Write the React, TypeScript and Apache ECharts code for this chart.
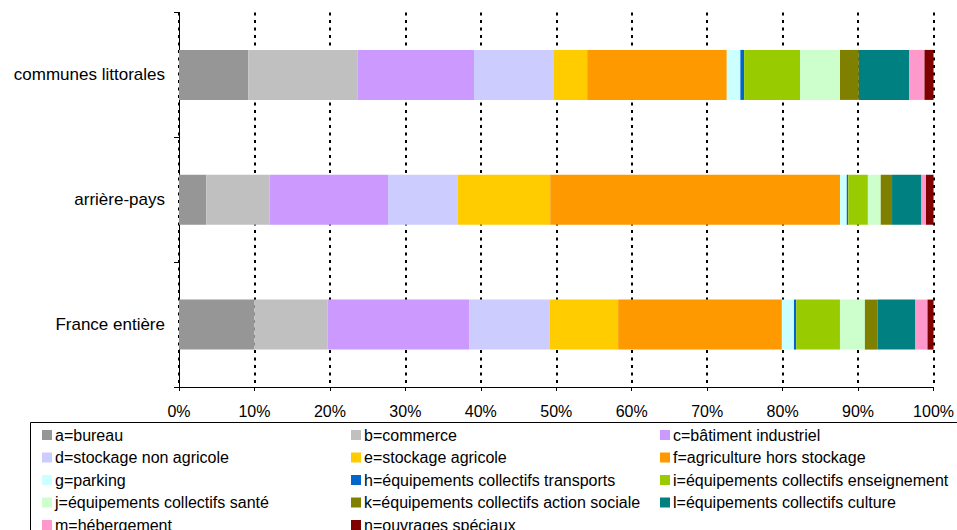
import React, { useEffect, useRef } from "react";
import * as echarts from "echarts";

// Territories shown as rows, top to bottom
const territories = ["communes littorales", "arrière-pays", "France entière"];

// Building-use categories (legend labels)
const usages = [
  "a=bureau",
  "b=commerce",
  "c=bâtiment industriel",
  "d=stockage non agricole",
  "e=stockage agricole",
  "f=agriculture hors stockage",
  "g=parking",
  "h=équipements collectifs transports",
  "i=équipements collectifs enseignement",
  "j=équipements collectifs santé",
  "k=équipements collectifs action sociale",
  "l=équipements collectifs culture",
  "m=hébergement",
  "n=ouvrages spéciaux",
];

// Share (%) of each usage, in the order of `usages`
const communesLittorales = [9.2, 14.5, 15.4, 10.6, 4.4, 18.5, 1.8, 0.5, 7.4, 5.3, 2.5, 6.7, 2.0, 1.2];
const arrierePays = [3.6, 8.4, 15.7, 9.2, 12.3, 38.4, 0.9, 0.2, 2.6, 1.7, 1.5, 3.9, 0.6, 1.0];
const franceEntiere = [10.0, 9.7, 18.8, 10.6, 9.1, 21.7, 1.6, 0.3, 5.8, 3.3, 1.7, 5.0, 1.6, 0.8];

const usageColors = [
  "#969696",
  "#C0C0C0",
  "#CC99FF",
  "#CCCCFF",
  "#FFCC00",
  "#FF9900",
  "#CCFFFF",
  "#0066CC",
  "#99CC00",
  "#CCFFCC",
  "#808000",
  "#008080",
  "#FF99CC",
  "#800000",
];

const FONT = "'Liberation Sans', Arial, sans-serif";

export default function App() {
  const ref = useRef<HTMLDivElement>(null);

  useEffect(() => {
    if (!ref.current) return;
    const chart = echarts.init(ref.current, undefined, { renderer: "svg" });
    const rows = [communesLittorales, arrierePays, franceEntiere];

    const series = usages.map((name, i) => ({
      name,
      type: "bar" as const,
      stack: "total",
      barWidth: 50,
      itemStyle: { color: usageColors[i] },
      emphasis: { disabled: true },
      data: rows.map((r) => r[i]),
    }));

    // legend laid out as a 3-column grid, filled row by row
    const colX = [42, 351, 660];
    const rowCenter0 = 435;
    const rowStep = 22.5;
    const legends = usages.map((name, i) => ({
      orient: "horizontal",
      left: colX[i % 3],
      top: rowCenter0 + Math.floor(i / 3) * rowStep - 9,
      padding: 0,
      itemWidth: 10,
      itemHeight: 10,
      icon: "rect",
      selectedMode: false,
      data: [name],
      textStyle: {
        color: "#000",
        fontSize: 16,
        fontFamily: FONT,
        lineHeight: 18,
        padding: [0, 0, 0, -2],
      },
    }));

    chart.setOption({
      animation: false,
      backgroundColor: "#ffffff",
      textStyle: { fontFamily: FONT },
      grid: { left: 179, right: 20, top: 12.5, bottom: 143, containLabel: false },
      xAxis: {
        type: "value",
        min: 0,
        max: 100,
        interval: 10,
        axisLine: { show: true, lineStyle: { color: "#000", width: 1 } },
        axisTick: { show: true, length: 4, lineStyle: { color: "#000" } },
        axisLabel: {
          formatter: "{value}%",
          color: "#000",
          fontSize: 16,
          fontFamily: FONT,
          margin: 16,
        },
        splitLine: {
          show: true,
          lineStyle: { color: "#000", width: 2, type: [3, 4.5] },
        },
      },
      yAxis: {
        type: "category",
        inverse: true,
        data: territories,
        axisLine: { show: true, lineStyle: { color: "#000", width: 1 } },
        axisTick: { show: true, length: 5, lineStyle: { color: "#000" } },
        axisLabel: { color: "#000", fontSize: 17, fontFamily: FONT, margin: 14 },
        splitLine: { show: false },
      },
      legend: legends,
      graphic: [
        {
          type: "rect",
          silent: true,
          shape: { x: 30.5, y: 422.5, width: 960, height: 140 },
          style: { fill: "none", stroke: "#000", lineWidth: 1 },
        },
      ],
      series,
    });

    return () => chart.dispose();
  }, []);

  return (
    <div
      ref={ref}
      style={{ position: "fixed", left: 0, top: 0, width: 957, height: 530 }}
    />
  );
}
